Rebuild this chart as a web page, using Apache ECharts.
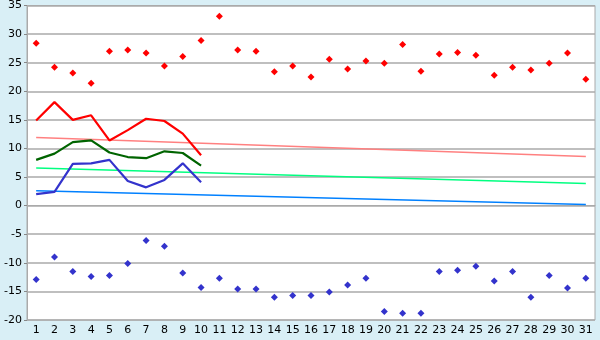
<!DOCTYPE html>
<html><head><meta charset="utf-8">
<script src="https://cdn.jsdelivr.net/npm/echarts@6/dist/echarts.min.js"></script>
<style>html,body{margin:0;padding:0;background:#d9eff6;}#c{width:600px;height:340px;}</style>
</head><body><div id="c"></div>
<script>
var days = [];
for (var d = 1; d <= 31; d++) days.push(String(d));
var maxTemps = [28.4,24.2,23.2,21.4,27.0,27.2,26.7,24.4,26.1,28.9,33.1,27.2,27.0,23.4,24.4,22.5,25.6,23.9,25.3,24.9,28.2,23.5,26.5,26.8,26.3,22.8,24.2,23.7,24.9,26.7,22.1];
var minTemps = [-12.9,-9.0,-11.5,-12.4,-12.2,-10.1,-6.1,-7.1,-11.8,-14.3,-12.7,-14.6,-14.6,-16.0,-15.7,-15.7,-15.1,-13.9,-12.7,-18.5,-18.8,-18.8,-11.5,-11.3,-10.6,-13.2,-11.5,-16.0,-12.2,-14.4,-12.7];
var dailyMax = [14.9,18.1,15.0,15.8,11.4,13.2,15.2,14.8,12.6,8.8];
var dailyMean = [8.0,9.1,11.1,11.4,9.3,8.5,8.3,9.5,9.2,7.0];
var dailyMin = [2.0,2.4,7.3,7.4,8.0,4.3,3.2,4.5,7.4,4.1];
var trendMaxEnds = [11.9, 8.6];
var trendMeanEnds = [6.6, 3.85];
var trendMinEnds = [2.6, 0.2];

function ends(e){ return [[days[0], e[0]], [days[days.length-1], e[1]]]; }

var chart = echarts.init(document.getElementById('c'));
chart.setOption({
  animation: false,
  backgroundColor: '#d9eff6',
  grid: {left: 27, right: 5, top: 5, bottom: 20, show: true, backgroundColor: '#ffffff', borderColor: '#aaaaaa', borderWidth: 1},
  xAxis: {
    type: 'category', data: days, boundaryGap: true,
    axisLine: {lineStyle: {color: '#aaaaaa', width: 1}},
    axisTick: {alignWithLabel: true, length: 4, lineStyle: {color: '#888888'}},
    axisLabel: {color: '#000', fontFamily: 'DejaVu Sans', fontSize: 11, interval: 0, margin: 5}
  },
  yAxis: {
    type: 'value', min: -20, max: 35, interval: 5,
    axisLine: {show: true, lineStyle: {color: '#aaaaaa'}},
    axisTick: {show: true, length: 3, lineStyle: {color: '#888888'}},
    splitLine: {lineStyle: {color: '#aaaaaa', width: 1.5}},
    axisLabel: {color: '#000', fontFamily: 'DejaVu Sans', fontSize: 11, margin: 5}
  },
  series: [
    {type: 'line', data: ends(trendMaxEnds), symbol: 'none', lineStyle: {color: '#ff8080', width: 1.5}, z: 2},
    {type: 'line', data: ends(trendMeanEnds), symbol: 'none', lineStyle: {color: '#00ff80', width: 1.5}, z: 2},
    {type: 'line', data: ends(trendMinEnds), symbol: 'none', lineStyle: {color: '#0080ff', width: 1.5}, z: 2},
    {type: 'line', data: dailyMax, symbol: 'none', lineStyle: {color: '#ff0000', width: 2.2}, z: 3},
    {type: 'line', data: dailyMean, symbol: 'none', lineStyle: {color: '#006400', width: 2.2}, z: 3},
    {type: 'line', data: dailyMin, symbol: 'none', lineStyle: {color: '#3333cc', width: 2.2}, z: 3},
    {type: 'scatter', data: maxTemps, symbol: 'diamond', symbolSize: 7, itemStyle: {color: '#ff0000', opacity: 1}, z: 4},
    {type: 'scatter', data: minTemps, symbol: 'diamond', symbolSize: 7, itemStyle: {color: '#3333cc', opacity: 1}, z: 4}
  ]
});
</script></body></html>
